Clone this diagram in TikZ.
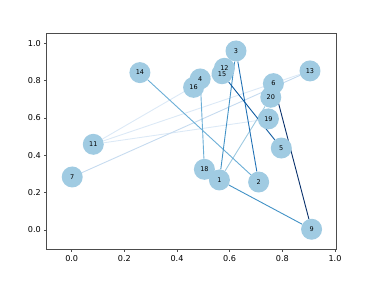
\documentclass[tikz,border=0pt]{standalone}
\usepackage{fontspec}
\setmainfont{DejaVu Sans}
\usepackage{tikz}
\usetikzlibrary{backgrounds}
\definecolor{nodeblue}{HTML}{A0CBE2}
\definecolor{blA}{HTML}{DCE9F6}
\definecolor{blB}{HTML}{C6DBEF}
\definecolor{blC}{HTML}{9ECAE1}
\definecolor{blD}{HTML}{6BAED6}
\definecolor{blE}{HTML}{4292C6}
\definecolor{blF}{HTML}{2171B5}
\definecolor{blG}{HTML}{0E5AA0}
\definecolor{blH}{HTML}{08306B}

\begin{document}
\begin{tikzpicture}[
  x=263.3pt, y=186.7pt,
  vertex/.style={circle, fill=nodeblue, minimum size=21pt, inner sep=0pt},
  tag/.style={inner sep=0pt, font=\fontsize{6.5}{7}\selectfont},
  link/.style={line width=0.9pt},
  frame/.style={draw=black!70, line width=0.7pt},
  ticklabel/.style={font=\fontsize{8.1}{9}\selectfont, inner sep=0pt}
]
\useasboundingbox (-0.2723,-0.2678) rectangle (1.1481,1.2319);

% axes box and ticks
\draw[frame] (-0.0948,-0.1028) rectangle (1.0061,1.0520);
\foreach \t in {0.0,0.2,0.4,0.6,0.8,1.0} {
  \draw[frame] (\t,-0.1028) -- ++(0,-2.8pt)
    node[ticklabel, below=2.8pt] {\t};
  \draw[frame] (-0.0948,\t) -- ++(-2.8pt,0)
    node[ticklabel, left=2.8pt] {\t};
}

% graph nodes
\node[vertex] (n14) at (0.259,0.843) {};
\node[vertex] (n11) at (0.082,0.459) {};
\node[vertex] (n7) at (0.002,0.284) {};
\node[vertex] (n3) at (0.624,0.959) {};
\node[vertex] (n12) at (0.580,0.866) {};
\node[vertex] (n15) at (0.571,0.837) {};
\node[vertex] (n4) at (0.488,0.809) {};
\node[vertex] (n16) at (0.463,0.764) {};
\node[vertex] (n6) at (0.766,0.784) {};
\node[vertex] (n20) at (0.756,0.711) {};
\node[vertex] (n13) at (0.905,0.852) {};
\node[vertex] (n19) at (0.747,0.595) {};
\node[vertex] (n5) at (0.796,0.439) {};
\node[vertex] (n18) at (0.504,0.325) {};
\node[vertex] (n1) at (0.561,0.268) {};
\node[vertex] (n2) at (0.710,0.257) {};
\node[vertex] (n9) at (0.911,0.004) {};

% labels on top of all discs
\node[tag] (t14) at (n14) {14};
\node[tag] (t11) at (n11) {11};
\node[tag] (t7) at (n7) {7};
\node[tag] (t3) at (n3) {3};
\node[tag] (t12) at (n12) {12};
\node[tag] (t15) at (n15) {15};
\node[tag] (t4) at (n4) {4};
\node[tag] (t16) at (n16) {16};
\node[tag] (t6) at (n6) {6};
\node[tag] (t20) at (n20) {20};
\node[tag] (t13) at (n13) {13};
\node[tag] (t19) at (n19) {19};
\node[tag] (t5) at (n5) {5};
\node[tag] (t18) at (n18) {18};
\node[tag] (t1) at (n1) {1};
\node[tag] (t2) at (n2) {2};
\node[tag] (t9) at (n9) {9};

% edges, coloured by weight
\begin{scope}[on background layer]
\draw[link, blA] (n11) -- (n12);
\draw[link, blA] (n11) -- (n13);
\draw[link, blA] (n11) -- (n19);
\draw[link, blB] (n7) -- (n13);
\draw[link, blC] (n1) -- (n20);
\draw[link, blD] (n14) -- (n2);
\draw[link, blD] (n4) -- (n18);
\draw[link, blE] (n1) -- (n9);
\draw[link, blE] (n3) -- (n1);
\draw[link, blF] (n3) -- (n2);
\draw[link, blG] (n15) -- (n5);
\draw[link, blH] (n6) -- (n9);
\end{scope}
\end{tikzpicture}
\end{document}
